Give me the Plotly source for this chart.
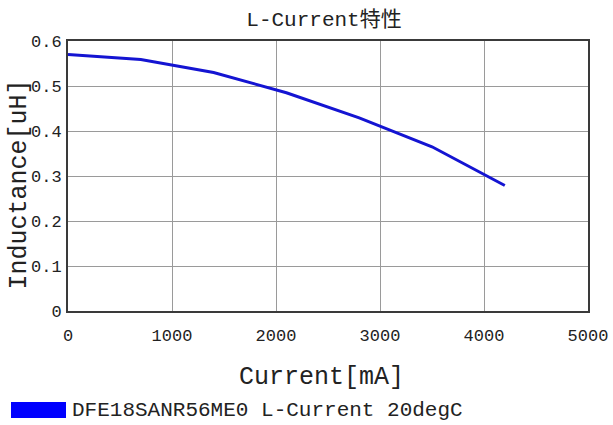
import plotly.graph_objects as go

current_ma = [0, 700, 1400, 2100, 2800, 3500, 4200]
inductance_uh = [0.570, 0.559, 0.530, 0.485, 0.429, 0.365, 0.279]
series_name = "DFE18SANR56ME0 L-Current 20degC"
title_text = "L-Current特性"
x_title = "Current[mA]"
y_title = "Inductance[uH]"
x_ticks = [0, 1000, 2000, 3000, 4000, 5000]
y_ticks = [0, 0.1, 0.2, 0.3, 0.4, 0.5, 0.6]
y_tick_labels = ["0", "0.1", "0.2", "0.3", "0.4", "0.5", "0.6"]

FONT = "Liberation Mono, DejaVu Sans Mono, Noto Sans CJK JP, monospace"
TXT = "#222222"
W, H = 613, 425
L, R, T, B = 68, 25, 41, 114
PW, PH = float(W - L - R), float(H - T - B)  # plot area size in px

fig = go.Figure()
fig.add_trace(go.Scatter(
    x=current_ma, y=inductance_uh, mode="lines", name=series_name,
    line=dict(color="#1414d2", width=3), showlegend=False,
))

fig.update_layout(
    width=W, height=H,
    margin=dict(l=L, r=R, t=T, b=B, autoexpand=False),
    paper_bgcolor="white", plot_bgcolor="white",
    font=dict(family=FONT, color=TXT, size=17),
    title=dict(text=title_text, x=324 / W, xanchor="center",
               xref="container", yref="container", y=1 - 19 / H, yanchor="middle",
               font=dict(family=FONT, size=21, color=TXT)),
    xaxis=dict(
        range=[0, 5000], tickvals=x_ticks, ticks="", showgrid=True, automargin=False,
        gridcolor="#9a9a9a", gridwidth=1, showline=True, linecolor="#3a3a3a",
        linewidth=2, mirror=True, zeroline=False, ticklabelstandoff=8,
        tickfont=dict(family=FONT, size=17, color=TXT),
    ),
    yaxis=dict(
        range=[0, 0.6], tickvals=y_ticks, ticktext=y_tick_labels, ticks="",
        showgrid=True, automargin=False, gridcolor="#9a9a9a", gridwidth=1, showline=True,
        linecolor="#3a3a3a", linewidth=2, mirror=True, zeroline=False,
        ticklabelstandoff=1,
        tickfont=dict(family=FONT, size=17, color=TXT),
    ),
)

# axis titles
fig.add_annotation(text=x_title, xref="paper", yref="paper",
                   x=(321 - L) / PW, y=(H - B - 377) / PH, xanchor="center", yanchor="middle",
                   showarrow=False, font=dict(family=FONT, size=25, color=TXT))
fig.add_annotation(text=y_title, xref="paper", yref="paper", textangle=-90,
                   x=(19 - L) / PW, y=(H - B - 184.5) / PH, xanchor="center", yanchor="middle",
                   showarrow=False, font=dict(family=FONT, size=25, color=TXT))

# legend entry drawn manually (rectangular swatch like the reference)
fig.add_shape(type="rect", xref="paper", yref="paper",
              x0=(11 - L) / PW, x1=(66 - L) / PW,
              y0=(H - B - 402) / PH, y1=(H - B - 418) / PH,
              fillcolor="#0000ff", line=dict(width=0))
fig.add_annotation(text=series_name, xref="paper", yref="paper",
                   x=(70 - L) / PW, y=(H - B - 410) / PH, xanchor="left", yanchor="middle",
                   showarrow=False, font=dict(family=FONT, size=21, color=TXT))

fig.write_html("out.html", config={"displayModeBar": False},
               post_script="document.body.style.margin='0';document.body.style.overflow='hidden';")
